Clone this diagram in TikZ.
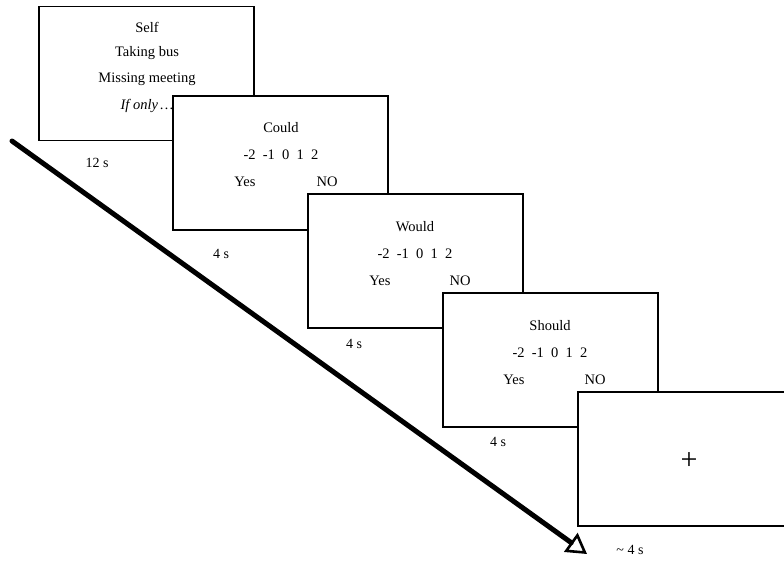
\documentclass[tikz,border=0pt]{standalone}
\usepackage{fontspec}
\setmainfont{Liberation Serif}
\usetikzlibrary{arrows.meta}

\tikzset{
	screen/.style={draw, line width=1.5pt, fill=white, minimum width=215pt, minimum height=134pt, inner sep=0pt},
	txt/.style={inner sep=0pt, font=\fontsize{14.5}{17}\selectfont},
	dur/.style={inner sep=0pt, font=\fontsize{14}{17}\selectfont}
}

\begin{document}
\begin{tikzpicture}[x=1pt,y=-1pt]
	
	\useasboundingbox (0,0) rectangle (784,563);
	\clip (0,0) rectangle (784,563);
	
	% time arrow
	\coordinate (start) at (12,141);
	\coordinate (stop) at (587,554);
	\draw[line width=5pt, line cap=round, -{Triangle[open, length=20pt, width=23pt, line width=2.6pt]}] (start) -- (stop);
	
	% screen 1
	\node[screen] (s1) at (146.5,73.5) {};
	\node[txt] (self) at (147,27) {Self};
	\node[txt] (bus) at (147,53) {Taking bus};
	\node[txt] (meet) at (147,79) {Missing meeting};
	\node[txt] (ifonly) at (147,106) {\textit{If only\,\dots}};
	\node[dur] (t1) at (97,163) {12 s};
	
	% screen 2
	\node[screen] (s2) at (280.5,163) {};
	\node[txt] (could) at (281,128) {Could};
	\node[txt] (sc2) at (281,155) {-2\ \ -1\ \ 0\ \ 1\ \ 2};
	\node[txt] (yes2) at (245,182) {Yes};
	\node[txt] (no2) at (327,182) {NO};
	\node[dur] (t2) at (221,254) {4 s};
	
	% screen 3
	\node[screen] (s3) at (415.5,261) {};
	\node[txt] (would) at (415,227) {Would};
	\node[txt] (sc3) at (415,254) {-2\ \ -1\ \ 0\ \ 1\ \ 2};
	\node[txt] (yes3) at (380,281) {Yes};
	\node[txt] (no3) at (460,281) {NO};
	\node[dur] (t3) at (354,344) {4 s};
	
	% screen 4
	\node[screen] (s4) at (550.5,360) {};
	\node[txt] (should) at (550,326) {Should};
	\node[txt] (sc4) at (550,353) {-2\ \ -1\ \ 0\ \ 1\ \ 2};
	\node[txt] (yes4) at (514,380) {Yes};
	\node[txt] (no4) at (595,380) {NO};
	\node[dur] (t4) at (498,442) {4 s};
	
	% screen 5
	\node[screen] (s5) at (685.5,459) {};
	\node[inner sep=0pt, font=\fontsize{30}{32}\selectfont] (fix) at (689,461) {+};
	\node[dur] (t5) at (630,550) {\textasciitilde\ 4 s};
	
\end{tikzpicture}
\end{document}
